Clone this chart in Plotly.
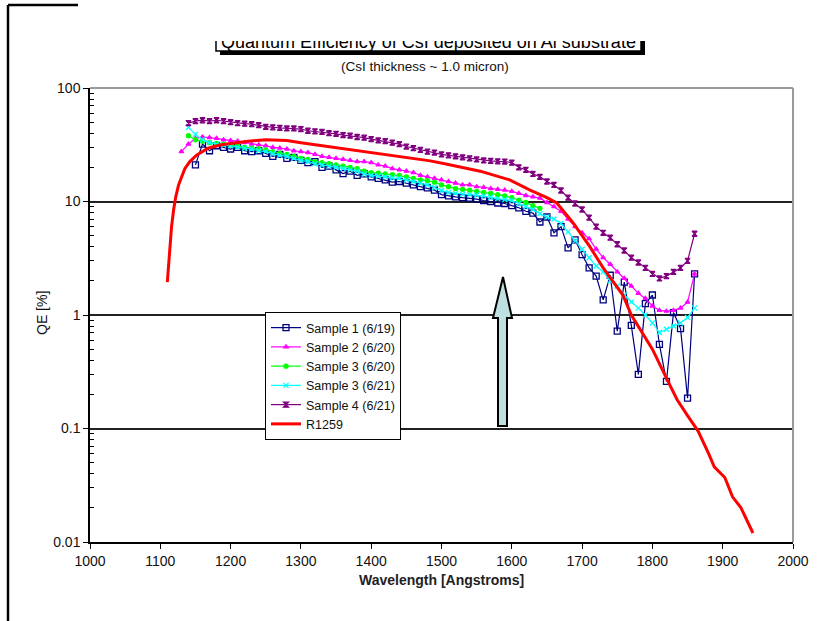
import plotly.graph_objects as go

# ---------------- data ----------------
WAVE_S1 = list(range(1150, 1870, 10))
QE_S1 = [21, 32, 28, 31, 30, 29, 30, 28, 27.5, 28,
         26.5, 25, 26, 24, 24.5, 23, 22, 22.5, 20, 20.5,
         19, 17.6, 18.5, 17, 17.5, 16.5, 16, 15.5, 14.8, 15,
         14.5, 14, 13.5, 13.2, 12.6, 11.5, 11.2, 11, 10.8, 10.7,
         10.5, 10.2, 10, 9.7, 9.6, 9.2, 8.8, 8.2, 7.9, 6.6,
         7.3, 5.3, 6.0, 3.9, 4.6, 3.4, 2.6, 2.2, 1.36, 2.24,
         0.72, 1.95, 0.81, 0.30, 1.26, 1.5, 0.55, 0.26, 1.05, 0.76,
         0.185, 2.3]

WAVE_S2 = list(range(1130, 1870, 10))
QE_S2 = [27.5, 32, 36, 37, 36.5, 36, 35, 34.5, 34, 33,
         32, 31.5, 31, 30, 29.5, 29, 28, 27.5, 27, 26,
         25, 24.5, 24, 23.5, 23, 22.5, 22.5, 22, 21, 20.5,
         19.5, 19, 18.5, 18, 17, 16.5, 16, 15.5, 15, 14.5,
         14, 14, 13.5, 13.3, 13, 12.8, 12.6, 12.3, 11.8, 11.3,
         11, 10.7, 9.8, 9, 8.2, 7, 6, 5.3, 4.7, 3.8,
         3.2, 2.8, 2.4, 2.1, 1.8, 1.55, 1.4, 1.2, 1.1, 1.08,
         1.1, 1.15, 1.3, 2.3]

WAVE_S3A = list(range(1140, 1650, 10))
QE_S3A = [38, 35, 34, 33, 32.5, 32, 31.5, 31, 30, 29.5,
          29, 28.5, 27.5, 26.5, 26, 25, 24, 23.5, 22.5, 22,
          21.5, 21, 20.5, 20, 19.5, 18.5, 18, 17.8, 17.5, 17.2,
          17, 16.5, 16, 15.5, 15.3, 14.8, 14, 13.5, 13, 12.8,
          12.6, 12.3, 12, 11.8, 11.5, 11.2, 10.8, 10.3, 9.8, 9.2,
          8.7]

WAVE_S3B = list(range(1140, 1870, 10))
QE_S3B = [45, 39, 35, 33, 32, 31.5, 31, 30, 29.5, 29,
          28, 27.5, 26.5, 25.5, 25, 24, 23, 22.5, 21.5, 21,
          20.5, 20, 19.5, 19, 18.5, 17.5, 17, 16.8, 16.5, 16.2,
          16, 15.5, 15, 14.5, 14, 13.3, 12.5, 12, 11.8, 11.6,
          11.5, 11.4, 11.2, 10.9, 10.6, 10.4, 10.2, 9.6, 9, 8.5,
          7.8, 7.3, 7, 6.4, 5.4, 4.5, 3.8, 3.2, 2.7, 2.4,
          2.0, 1.8, 1.5, 1.3, 1.15, 1.0, 0.85, 0.7, 0.75, 0.8,
          0.85, 0.95, 1.15]

WAVE_S4 = list(range(1140, 1870, 10))
QE_S4 = [49, 51, 52, 51, 52, 51, 50, 49, 48.5, 48,
         47, 45.5, 45, 44.5, 44, 44, 43.5, 42, 41.5, 41,
         40, 39.5, 38.5, 38, 37, 36.5, 35.5, 34.5, 34, 33,
         32, 30.5, 29.5, 28.5, 27.5, 27, 26, 25.5, 25, 24.5,
         24, 23.5, 23, 22.8, 22.6, 22.5, 22, 20, 19, 17.5,
         16.5, 15, 14, 12.5, 10.8, 9.6, 8.5, 7.2, 6, 5.3,
         4.8, 4.2, 3.7, 3.2, 2.9, 2.6, 2.3, 2.1, 2.2, 2.4,
         2.6, 3.0, 5.2]

WAVE_R = [1110, 1112, 1114, 1116, 1119, 1122, 1126, 1130, 1135, 1142,
          1152, 1168, 1185, 1200, 1225, 1250, 1280, 1300, 1346, 1400,
          1441, 1484, 1508, 1555, 1597, 1626, 1650, 1664, 1687, 1711,
          1730, 1758, 1770, 1782, 1800, 1821, 1835, 1850, 1865, 1880,
          1888, 1903, 1914, 1926, 1943]
QE_R = [1.95, 3.0, 4.0, 6.0, 8.5, 11, 14, 16.5, 19.5, 22.5,
        25.7, 29.5, 31.5, 32.5, 34, 35, 34.5, 33, 30, 27,
        25, 22.8, 21.3, 18.5, 15.5, 12.6, 10.8, 9.7, 6.5, 4.0,
        2.6, 1.5, 1.0, 0.75, 0.5, 0.27, 0.18, 0.13, 0.095, 0.06,
        0.046, 0.037, 0.025, 0.02, 0.012]

NAMES = ["Sample 1 (6/19)", "Sample 2 (6/20)", "Sample 3 (6/20)",
         "Sample 3 (6/21)", "Sample 4 (6/21)", "R1259"]
X_TICKS = [1000, 1100, 1200, 1300, 1400, 1500, 1600, 1700, 1800, 1900, 2000]
Y_TICKS = [0.01, 0.1, 1, 10, 100]
Y_TICK_TEXT = ["0.01", "0.1", "1", "10", "100"]
TITLE = "Quantum Efficiency of CsI deposited on Al substrate"
SUBTITLE = "(CsI thickness ~ 1.0 micron)"
X_TITLE = "Wavelength [Angstroms]"
Y_TITLE = "QE [%]"

# ---------------- figure ----------------
FONT = "Liberation Sans, Arial, sans-serif"
W, H = 833, 621
L, R, T, B = 90, 40, 88, 79
PW, PH = W - L - R, H - T - B


def px(xp):
    return (xp - L) / PW


def py(yp):
    return (H - B - yp) / PH


fig = go.Figure()

series = [
    (WAVE_S1, QE_S1, NAMES[0], "#000080", "square-open", 6, 1.2),
    (WAVE_S2, QE_S2, NAMES[1], "#FF00FF", "triangle-up", 4, 1.2),
    (WAVE_S3A, QE_S3A, NAMES[2], "#00FF00", "circle", 4, 1.2),
    (WAVE_S3B, QE_S3B, NAMES[3], "#00FFFF", "x-thin-open", 5, 1.2),
    (WAVE_S4, QE_S4, NAMES[4], "#800080", "hourglass", 5, 1.2),
]
for xs, ys, name, col, sym, size, lw in series:
    fig.add_trace(go.Scatter(
        x=xs, y=ys, name=name, mode="lines+markers",
        line=dict(color=col, width=lw),
        marker=dict(symbol=sym, size=size, color=col,
                    line=dict(color=col, width=1.3)),
    ))

fig.add_trace(go.Scatter(
    x=WAVE_R, y=QE_R, name=NAMES[5], mode="lines",
    line=dict(color="#FF0000", width=3),
))

minor_vals = [m * 10 ** e for e in range(-2, 2) for m in range(2, 10)]

fig.update_layout(
    width=W, height=H,
    margin=dict(l=L, r=R, t=T, b=B, pad=0),
    paper_bgcolor="white", plot_bgcolor="white",
    font=dict(family=FONT, size=13, color="#111"),
    showlegend=True,
    legend=dict(
        x=px(265), y=py(312), xanchor="left", yanchor="top",
        bgcolor="white", bordercolor="black", borderwidth=1,
        font=dict(family=FONT, size=12.5, color="#111"),
        itemwidth=30, tracegroupgap=0,
    ),
    xaxis=dict(
        range=[1000, 2000], tickvals=X_TICKS,
        ticks="outside", ticklen=5, tickwidth=1, tickcolor="black",
        showline=True, linecolor="black", linewidth=1.5,
        showgrid=False, zeroline=False,
        tickfont=dict(family=FONT, size=14, color="#111"),
    ),
    yaxis=dict(
        type="log", range=[-2, 2],
        tickvals=Y_TICKS, ticktext=Y_TICK_TEXT,
        ticks="outside", ticklen=5, tickwidth=1, tickcolor="black",
        showline=True, linecolor="black", linewidth=1.5,
        showgrid=True, gridcolor="#222", gridwidth=1.5,
        zeroline=False,
        minor=dict(tickvals=minor_vals, ticks="inside", ticklen=4,
                   tickcolor="black", showgrid=False),
        tickfont=dict(family=FONT, size=14, color="#111"),
    ),
)

shapes = []
# gray plot-area border (top and right)
shapes.append(dict(type="line", xref="paper", yref="paper", x0=0, x1=1, y0=1, y1=1,
                   line=dict(color="#9a9a9a", width=2), layer="above"))
shapes.append(dict(type="line", xref="paper", yref="paper", x0=1, x1=1, y0=0, y1=1,
                   line=dict(color="#9a9a9a", width=2), layer="above"))
# page frame corner
shapes.append(dict(type="line", xref="paper", yref="paper", x0=px(8), x1=px(8), y0=py(5), y1=py(625),
                   line=dict(color="black", width=2.5)))
shapes.append(dict(type="line", xref="paper", yref="paper", x0=px(8), x1=px(78), y0=py(5), y1=py(5),
                   line=dict(color="black", width=2.5)))
# title box shadow + box
shapes.append(dict(type="rect", xref="paper", yref="paper", x0=px(220), x1=px(645), y0=py(55), y1=py(30),
                   fillcolor="black", line=dict(width=0)))
shapes.append(dict(type="rect", xref="paper", yref="paper", x0=px(216), x1=px(641), y0=py(51), y1=py(26),
                   fillcolor="white", line=dict(color="black", width=1.5)))
# upward arrow
pts = [(503, 277), (512, 318), (507, 318), (507, 426), (498, 426), (498, 318), (493, 318)]
path = "M " + " L ".join(f"{px(a):.5f},{py(b):.5f}" for a, b in pts) + " Z"
shapes.append(dict(type="path", xref="paper", yref="paper", path=path,
                   fillcolor="#BFE0E0", line=dict(color="black", width=2), layer="above"))
fig.update_layout(shapes=shapes)

ann = []
ann.append(dict(text=TITLE, xref="paper", yref="paper", x=px(428), y=py(42),
                xanchor="center", yanchor="middle", showarrow=False,
                font=dict(family=FONT, size=18, color="black")))
# cover to mimic the cropped top of the title box
ann.append(dict(text=" ", xref="paper", yref="paper", x=px(430), y=py(0),
                xanchor="center", yanchor="top", showarrow=False,
                width=470, height=41, bgcolor="white", borderpad=0, borderwidth=0))
ann.append(dict(text=SUBTITLE, xref="paper", yref="paper", x=px(425), y=py(67),
                xanchor="center", yanchor="middle", showarrow=False,
                font=dict(family=FONT, size=13.5, color="#111")))
ann.append(dict(text="<b>" + X_TITLE + "</b>", xref="paper", yref="paper", x=px(441), y=py(580),
                xanchor="center", yanchor="middle", showarrow=False,
                font=dict(family=FONT, size=14, color="#222")))
ann.append(dict(text=Y_TITLE, xref="paper", yref="paper", x=px(42), y=py(313),
                xanchor="center", yanchor="middle", showarrow=False, textangle=-90,
                font=dict(family=FONT, size=14, color="#111")))
fig.update_layout(annotations=ann)

fig.write_html("out.html")
